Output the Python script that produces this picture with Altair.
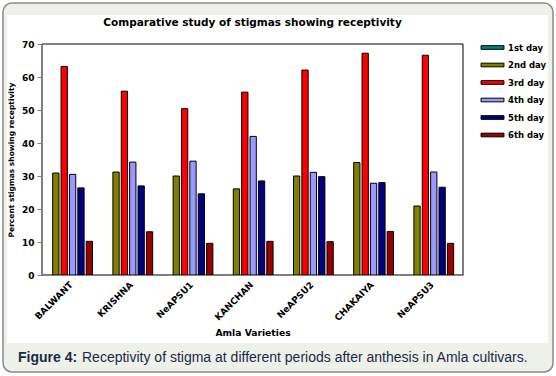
import altair as alt
import pandas as pd

varieties = ["BALWANT", "KRISHNA", "NeAPSU1", "KANCHAN", "NeAPSU2", "CHAKAIYA", "NeAPSU3"]
days = ["1st day", "2nd day", "3rd day", "4th day", "5th day", "6th day"]
day1 = [0, 0, 0, 0, 0, 0, 0]
day2 = [30.9, 31.2, 30.0, 26.1, 30.0, 34.1, 20.9]
day3 = [63.2, 55.7, 50.4, 55.4, 62.1, 67.2, 66.6]
day4 = [30.5, 34.2, 34.5, 42.0, 31.1, 27.8, 31.2]
day5 = [26.4, 27.0, 24.6, 28.5, 29.8, 28.0, 26.6]
day6 = [10.2, 13.1, 9.6, 10.2, 10.1, 13.2, 9.6]
colors = ["#008080", "#808000", "#FF0000", "#9999FF", "#000080", "#990000"]
title_text = "Comparative study of stigmas showing receptivity"
caption_bold = "Figure 4:"
caption_rest = "Receptivity of stigma at different periods after anthesis in Amla cultivars."

series = [day1, day2, day3, day4, day5, day6]
rows = []
for d, vals in zip(days, series):
    for v, val in zip(varieties, vals):
        rows.append({"Variety": v, "Day": d, "Value": val})
df = pd.DataFrame(rows)

W, H = 421, 231
PL, PT = 42, 44
TOTW, TOTH = 556, 376
CF = "DejaVu Sans"

dummy = alt.Data(values=[{"a": 1}])

bg = alt.Chart(dummy).mark_rect(
    fill="#eef1ea", stroke="#8a8a8a", strokeWidth=1.5, cornerRadius=9
).encode(
    x=alt.value(3 - PL), x2=alt.value(553 - PL),
    y=alt.value(3 - PT), y2=alt.value(372 - PT),
)
panel = alt.Chart(dummy).mark_rect(fill="white").encode(
    x=alt.value(7 - PL), x2=alt.value(548 - PL),
    y=alt.value(15 - PT), y2=alt.value(343 - PT),
)
frame = alt.Chart(dummy).mark_rect(fillOpacity=0, stroke="black", strokeWidth=1).encode(
    x=alt.value(0), x2=alt.value(W), y=alt.value(0), y2=alt.value(H),
)

bars = alt.Chart(df).mark_bar(stroke="black").encode(
    x=alt.X("Variety:N", sort=varieties,
            scale=alt.Scale(paddingInner=0.2, paddingOuter=0.097, align=0.2),
            axis=alt.Axis(title="Amla Varieties", labelAngle=-45, ticks=False,
                          labelFont=CF, titleFont=CF,
                          labelFontWeight="bold", labelFontSize=9, labelPadding=5,
                          titleFontSize=9.2, titleFontWeight="bold", titleY=57,
                          titleBaseline="middle", zindex=1,
                          domainColor="#808080")),
    xOffset=alt.XOffset("Day:N", sort=days, scale=alt.Scale(paddingInner=0.25)),
    y=alt.Y("Value:Q", scale=alt.Scale(domain=[0, 70]),
            axis=alt.Axis(title="Percent stigmas showing receptivity", values=list(range(0, 71, 10)),
                          grid=False, tickSize=5, tickColor="#808080", domainColor="#808080",
                          labelFont=CF, titleFont=CF,
                          labelFontWeight="bold", labelFontSize=9, labelPadding=3, zindex=1,
                          titleFontSize=7.5, titleFontWeight="bold", titleX=-27)),
    color=alt.Color("Day:N", sort=days,
                    scale=alt.Scale(domain=days, range=colors),
                    legend=alt.Legend(title=None, orient="none", legendX=445, legendY=-2,
                                      symbolType="M-2.5,-0.4H2.5V0.4H-2.5Z", symbolSize=84,
                                      symbolStrokeColor="black", symbolStrokeWidth=1,
                                      labelFont=CF,
                                      labelFontWeight="bold", labelFontSize=8.5, labelOffset=10,
                                      rowPadding=7.5, padding=0)),
    strokeWidth=alt.condition("datum.Value == 0", alt.value(0), alt.value(1)),
)

txt = alt.Data(values=[{"t": title_text, "b": caption_bold, "r": caption_rest}])
title = alt.Chart(txt).mark_text(align="center", baseline="alphabetic", fontSize=10.5, font=CF,
                                 fontWeight="bold", color="black").encode(
    x=alt.value(W / 2), y=alt.value(26 - PT), text="t:N")
cap1 = alt.Chart(txt).mark_text(align="left", baseline="alphabetic", fontSize=14,
                                fontWeight="bold", color="#1b2a47").encode(
    x=alt.value(18 - PL), y=alt.value(362 - PT), text="b:N")
cap2 = alt.Chart(txt).mark_text(align="left", baseline="alphabetic", fontSize=14,
                                color="#1b2a47").encode(
    x=alt.value(82 - PL), y=alt.value(362 - PT), text="r:N")

chart = alt.layer(bg, panel, frame, bars, title, cap1, cap2).properties(
    width=W, height=H,
    autosize=alt.AutoSizeParams(type="none"),
    padding={"left": PL, "top": PT, "right": TOTW - PL - W, "bottom": TOTH - PT - H},
).configure(font="Liberation Sans").configure_view(strokeWidth=0)

chart.save("out.html", embed_options={"renderer": "svg", "actions": False})
